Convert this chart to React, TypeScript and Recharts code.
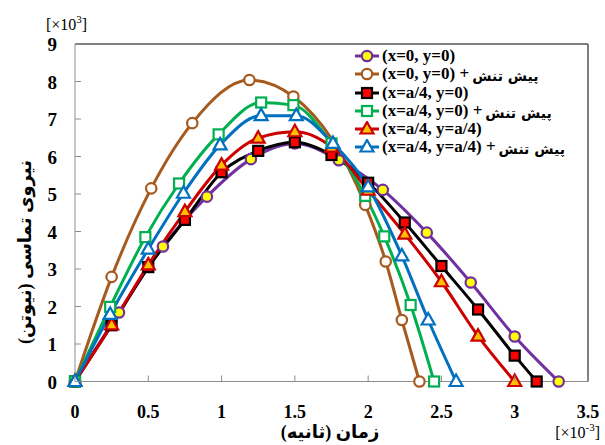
import React from 'react';
import { LineChart, Line, XAxis, YAxis, Legend, ReferenceLine, Label } from 'recharts';

// ---- data (time in 1e-3 s, force in 1e3 N) ----
const timeA = [0, 0.3, 0.6, 0.9, 1.2, 1.5, 1.8, 2.1, 2.4, 2.7, 3.0, 3.3];
const forceA = [0, 1.84, 3.6, 4.93, 5.93, 6.35, 5.9, 5.11, 3.97, 2.64, 1.2, 0];

const timeB = [0, 0.25, 0.52, 0.8, 1.19, 1.49, 1.98, 2.12, 2.23, 2.35];
const forceB = [0, 2.79, 5.15, 6.89, 8.04, 7.6, 4.71, 3.2, 1.64, 0];

const timeC = [0, 0.25, 0.5, 0.75, 1.0, 1.25, 1.5, 1.75, 2.0, 2.25, 2.5, 2.75, 3.0, 3.15];
const forceC = [0, 1.5, 3.05, 4.31, 5.58, 6.15, 6.38, 6.04, 5.3, 4.24, 3.08, 1.92, 0.69, 0];

const timeD = [0, 0.24, 0.48, 0.71, 0.98, 1.27, 1.49, 1.75, 1.98, 2.11, 2.29, 2.45];
const forceD = [0, 1.99, 3.85, 5.28, 6.59, 7.44, 7.37, 6.35, 4.95, 3.87, 2.04, 0];

const timeE = [0, 0.25, 0.5, 0.75, 1.0, 1.25, 1.5, 1.75, 2.0, 2.25, 2.5, 2.75, 3.0];
const forceE = [0, 1.51, 3.11, 4.53, 5.77, 6.49, 6.66, 6.25, 5.1, 3.93, 2.66, 1.21, 0];

const timeF = [0, 0.24, 0.5, 0.74, 0.99, 1.27, 1.51, 1.76, 2.0, 2.23, 2.41, 2.6];
const forceF = [0, 1.79, 3.53, 5.02, 6.31, 7.09, 7.09, 6.35, 5.19, 3.35, 1.64, 0];

const seriesLabels = [
  '(x=0, y=0)',
  '(x=0, y=0)',
  '(x=a/4, y=0)',
  '(x=a/4, y=0)',
  '(x=a/4, y=a/4)',
  '(x=a/4, y=a/4)',
];
const prestress = [false, true, false, true, false, true];
const prestressText = 'پیش تنش';

const xTicks = [0, 0.5, 1, 1.5, 2, 2.5, 3, 3.5];
const yTicks = [0, 1, 2, 3, 4, 5, 6, 7, 8, 9];

const yTitle = 'نیروی تماسی (نیوتن)';
const xTitle = 'زمان (ثانیه)';

const zip = (t: number[], f: number[]) => t.map((x, i) => ({ x, y: f[i] }));

type Shape = 'circle' | 'square' | 'triangle';
interface Style {
  color: string;
  shape: Shape;
  fill: string;
  markerStroke: string;
}

const styles: Style[] = [
  { color: '#7030A0', shape: 'circle', fill: '#FFFF00', markerStroke: '#7030A0' },
  { color: '#A65A1E', shape: 'circle', fill: '#FFFFFF', markerStroke: '#A65A1E' },
  { color: '#000000', shape: 'square', fill: '#FF0000', markerStroke: '#000000' },
  { color: '#00B050', shape: 'square', fill: '#FFFFFF', markerStroke: '#00B050' },
  { color: '#CC0000', shape: 'triangle', fill: '#FFC000', markerStroke: '#CC0000' },
  { color: '#0070C0', shape: 'triangle', fill: '#FFFFFF', markerStroke: '#0070C0' },
];

const datasets = [
  zip(timeA, forceA),
  zip(timeB, forceB),
  zip(timeC, forceC),
  zip(timeD, forceD),
  zip(timeE, forceE),
  zip(timeF, forceF),
];

const FONT = "'Liberation Serif', 'Times New Roman', 'DejaVu Sans', serif";

const Marker = ({ cx, cy, s }: { cx: number; cy: number; s: Style }) => {
  if (s.shape === 'circle') {
    return <circle cx={cx} cy={cy} r={5.2} fill={s.fill} stroke={s.markerStroke} strokeWidth={2.2} />;
  }
  if (s.shape === 'square') {
    return (
      <rect x={cx - 5} y={cy - 5} width={10} height={10} fill={s.fill} stroke={s.markerStroke} strokeWidth={2.2} />
    );
  }
  return (
    <polygon
      points={`${cx},${cy - 7} ${cx - 6.5},${cy + 4.5} ${cx + 6.5},${cy + 4.5}`}
      fill={s.fill}
      stroke={s.markerStroke}
      strokeWidth={2.2}
      strokeLinejoin="miter"
    />
  );
};

const makeDot = (s: Style, k: number) => (p: any) => {
  const { cx, cy, index } = p;
  if (cx == null || cy == null) return <g key={`d${k}-${index}`} />;
  return (
    <g key={`d${k}-${index}`}>
      <Marker cx={cx} cy={cy} s={s} />
    </g>
  );
};

const XTick = (p: any) => {
  const { x, y, payload } = p;
  return (
    <g>
      <line x1={x} x2={x} y1={y} y2={y - 6} stroke="#8c8c8c" strokeWidth={1} />
      <text x={x} y={y + 36.5} textAnchor="middle" fontFamily={FONT} fontWeight="bold" fontSize={18} fill="#000">
        {payload.value}
      </text>
    </g>
  );
};

const YTick = (p: any) => {
  const { x, y, payload } = p;
  return (
    <g>
      <line x1={x} x2={x + 6} y1={y} y2={y} stroke="#8c8c8c" strokeWidth={1} />
      <text x={x - 18} y={y + 7} textAnchor="end" fontFamily={FONT} fontWeight="bold" fontSize={19} fill="#000">
        {payload.value}
      </text>
    </g>
  );
};

const rowCenters = [56, 74, 92.5, 111, 128.5, 147];

const renderLegend = () => (
  <div style={{ position: 'relative', width: 240, height: 120 }}>
    {seriesLabels.map((name, i) => {
      const s = styles[i];
      return (
        <div
          key={`${name}-${i}`}
          style={{
            position: 'absolute',
            left: 0,
            top: rowCenters[i] - 46 - 8,
            height: 16,
            display: 'flex',
            alignItems: 'center',
            whiteSpace: 'nowrap',
          }}
        >
          <svg width={28} height={16} style={{ display: 'block' }}>
            <line x1={2} x2={26} y1={8} y2={8} stroke={s.color} strokeWidth={3} />
            <Marker cx={14} cy={8} s={s} />
          </svg>
          <span
            dir="ltr"
            style={{
              fontFamily: FONT,
              fontWeight: 'bold',
              fontSize: 17,
              lineHeight: '16px',
              color: '#000',
              marginLeft: 1,
            }}
          >
            {name}
            {prestress[i] ? ' + ' : ''}
          </span>
          {prestress[i] ? (
            <span
              dir="rtl"
              style={{
                fontFamily: "'DejaVu Sans', 'Noto Sans', sans-serif",
                fontWeight: 'bold',
                fontSize: 14,
                lineHeight: '16px',
                color: '#000',
                marginLeft: 3,
                marginTop: 4,
              }}
            >
              {prestressText}
            </span>
          ) : null}
        </div>
      );
    })}
  </div>
);

export default function App() {
  return (
    <div style={{ position: 'fixed', left: 0, top: 0, width: 605, height: 445, background: '#fff' }}>
      <LineChart width={605} height={445} margin={{ top: 44, right: 17, bottom: 33.5, left: 15 }}>
        <XAxis
          type="number"
          dataKey="x"
          domain={[0, 3.5]}
          ticks={xTicks}
          height={30}
          stroke="#8c8c8c"
          tickLine={false}
          tickSize={0}
          tickMargin={0}
          tick={<XTick />}
          interval={0}
        >
          <Label
            content={() => (
              <g>
                <text
                  x={330}
                  y={438}
                  textAnchor="middle"
                  direction="rtl"
                  fontFamily={FONT}
                  fontWeight="bold"
                  fontSize={18}
                  fill="#000"
                >
                  {xTitle}
                </text>
                <text x={600} y={438} textAnchor="end" fontFamily={FONT} fontSize={16} fill="#000">
                  [×10
                  <tspan dy={-7} fontSize={11}>
                    -3
                  </tspan>
                  <tspan dy={7}>]</tspan>
                </text>
              </g>
            )}
          />
        </XAxis>
        <YAxis
          type="number"
          dataKey="y"
          domain={[0, 9]}
          ticks={yTicks}
          width={60}
          stroke="#8c8c8c"
          tickLine={false}
          tickSize={0}
          tickMargin={0}
          tick={<YTick />}
          interval={0}
        >
          <Label
            content={() => (
              <g>
                <text
                  transform="translate(31,252) rotate(-90)"
                  textAnchor="middle"
                  direction="rtl"
                  fontFamily={FONT}
                  fontWeight="bold"
                  fontSize={18}
                  fill="#000"
                >
                  {yTitle}
                </text>
                <text x={46} y={30} fontFamily={FONT} fontSize={16} fill="#000">
                  [×10
                  <tspan dy={-7} fontSize={11}>
                    3
                  </tspan>
                  <tspan dy={7}>]</tspan>
                </text>
              </g>
            )}
          />
        </YAxis>
        <ReferenceLine y={9} stroke="#000" strokeWidth={1} />
        <ReferenceLine x={3.5} stroke="#555" strokeWidth={1.5} />
        {datasets.map((d, i) => (
          <Line
            key={`series-${i}`}
            data={d}
            dataKey="y"
            name={seriesLabels[i]}
            type="monotone"
            stroke={styles[i].color}
            strokeWidth={3}
            dot={makeDot(styles[i], i)}
            activeDot={false}
            isAnimationActive={false}
          />
        ))}
        <Legend
          layout="horizontal"
          verticalAlign="middle"
          align="center"
          content={renderLegend}
          wrapperStyle={{ position: 'absolute', left: 353, top: 46, width: 240, height: 120 }}
        />
      </LineChart>
    </div>
  );
}
